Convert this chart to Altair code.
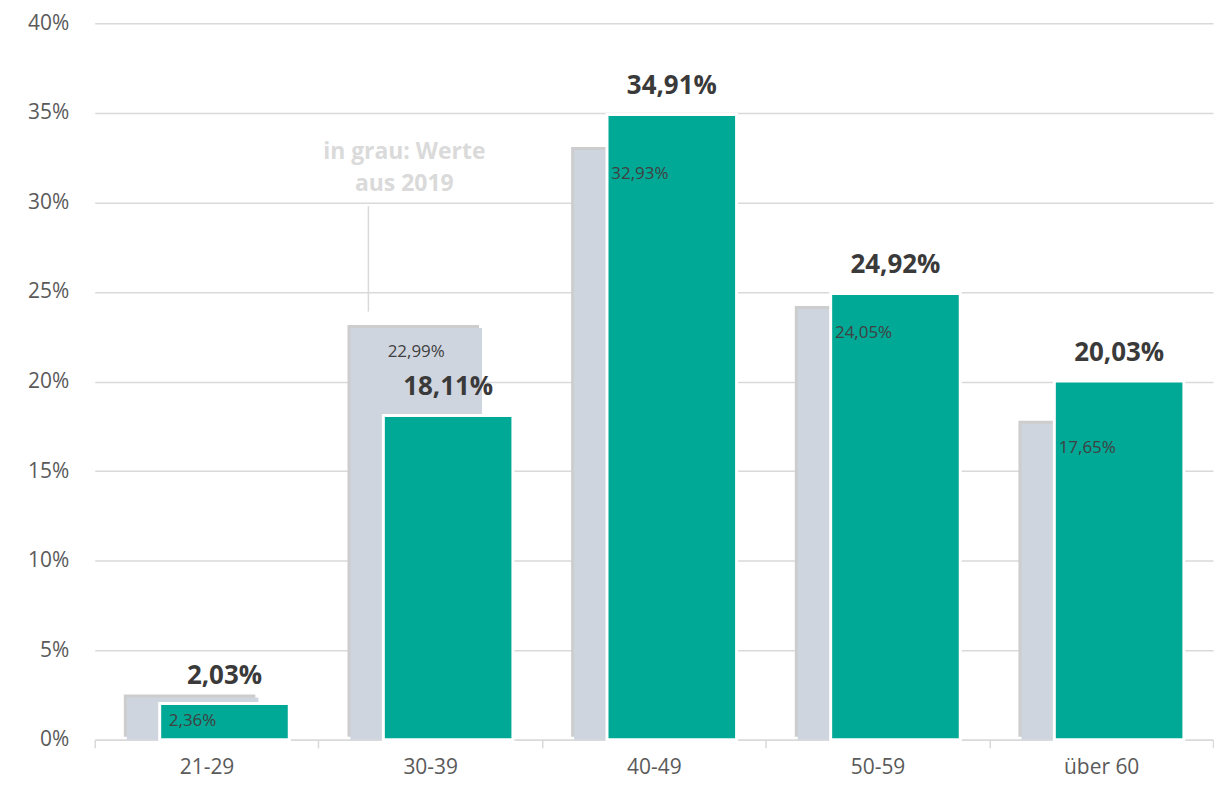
import altair as alt
import pandas as pd

categories = ["21-29", "30-39", "40-49", "50-59", "über 60"]
values_2019 = [2.36, 22.99, 32.93, 24.05, 17.65]
values_now = [2.03, 18.11, 34.91, 24.92, 20.03]

note_lines = ["in grau: Werte", "aus 2019"]
note_cat = "30-39"
note_y = [32.8, 31.05]
note_rule = [29.8, 23.9]

def fmt(v):
    return f"{v:.2f}".replace(".", ",") + "%"

df = pd.DataFrame({
    "cat": categories,
    "old": values_2019,
    "new": values_now,
    "old_lbl": [fmt(v) for v in values_2019],
    "new_lbl": [fmt(v) for v in values_now],
})
note_df = pd.DataFrame({"cat": [note_cat] * 2, "y": note_y, "t": note_lines})
rule_df = pd.DataFrame({"cat": [note_cat], "y": [note_rule[0]], "y2": [note_rule[1]]})

FONT = "Open Sans"
W, H = 1122, 719

xenc = alt.X("cat:N", sort=categories, title=None,
             scale=alt.Scale(paddingInner=0, paddingOuter=0),
             axis=alt.Axis(labelAngle=0, tickBand="extent", grid=False,
                           domainColor="#d9d9d9", domainWidth=1.5,
                           tickColor="#d9d9d9", tickSize=8, tickWidth=1.5,
                           labelFontSize=21, labelColor="#5a5a5a", labelFont=FONT,
                           labelPadding=9))
yscale = alt.Scale(domain=[0, 40], nice=False)
yaxis = alt.Axis(values=[0, 5, 10, 15, 20, 25, 30, 35, 40], labelExpr="datum.value + '%'",
                 domain=False, ticks=False, gridColor="#d9d9d9", gridWidth=1.5,
                 labelFontSize=21, labelColor="#5a5a5a", labelFont=FONT, labelPadding=26)

base = alt.Chart(df).encode(x=xenc)

shadow = base.mark_bar(width=132, xOffset=-17, yOffset=-3, color="#cdcdcd").encode(
    y=alt.Y("old:Q", scale=yscale, axis=yaxis, title=None))
grey = base.mark_bar(width=132, xOffset=-14, color="#cfd5df").encode(y=alt.Y("old:Q"))
green = base.mark_bar(width=130, xOffset=18, color="#00a896", stroke="white",
                      strokeWidth=3).encode(y=alt.Y("new:Q"))
grey_lbl = base.mark_text(xOffset=-14, dy=24, fontSize=17, font=FONT, color="#404040").encode(
    y=alt.Y("old:Q"), text="old_lbl:N")
green_lbl = base.mark_text(xOffset=18, dy=-28, fontSize=26, font=FONT, fontWeight="bold",
                           color="#3a3a3a").encode(y=alt.Y("new:Q"), text="new_lbl:N")

note = alt.Chart(note_df).mark_text(xOffset=-26, fontSize=23, font=FONT, fontWeight="bold",
                                    color="#dadada").encode(
    x=alt.X("cat:N", sort=categories), y=alt.Y("y:Q"), text="t:N")
rule = alt.Chart(rule_df).mark_rule(xOffset=-62, color="#d9d9d9", strokeWidth=1.5).encode(
    x=alt.X("cat:N", sort=categories), y=alt.Y("y:Q"), y2="y2:Q")

chart = alt.layer(shadow, grey, green, grey_lbl, green_lbl, rule, note).properties(
    width=W, height=H, padding={"left": 19, "top": 3, "right": 0, "bottom": 0}
).configure_view(stroke=None)

chart.save("out.html", embed_options={"renderer": "svg", "actions": False})
